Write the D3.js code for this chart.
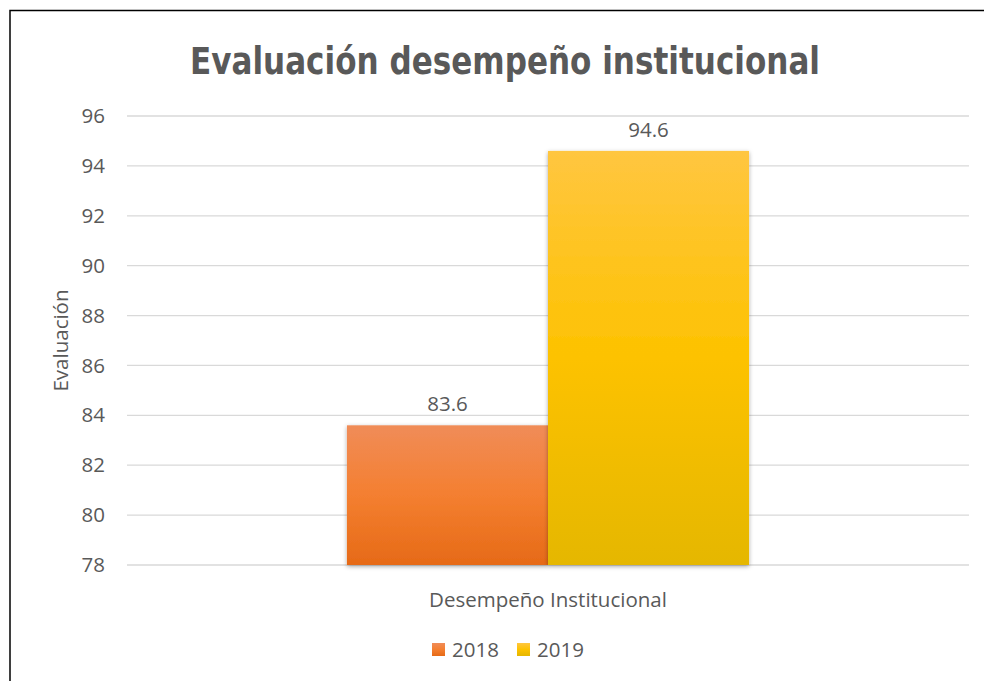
<!DOCTYPE html>
<html>
<head>
<meta charset="utf-8">
<script src="https://d3js.org/d3.v7.min.js"></script>
<style>
  body { margin: 0; background: #fff; }
  text { font-family: "Open Sans", sans-serif; fill: #595959; }
</style>
</head>
<body>
<div id="chart"></div>
<script>
// data
var categories = ['Desempeño Institucional'];
var series = ['2018', '2019'];
var values2018 = [83.6];
var values2019 = [94.6];
var yTicks = [78, 80, 82, 84, 86, 88, 90, 92, 94, 96];

var W = 984, H = 681;
var margin = {top: 116, right: 15, bottom: 116, left: 127};
var width = W - margin.left - margin.right,
    height = H - margin.top - margin.bottom;

var svg = d3.select('#chart').append('svg')
    .attr('width', W).attr('height', H);

var defs = svg.append('defs');
var g1 = defs.append('linearGradient').attr('id', 'grad2018')
    .attr('x1', 0).attr('y1', 0).attr('x2', 0).attr('y2', 1);
g1.append('stop').attr('offset', '0%').attr('stop-color', '#f08c58');
g1.append('stop').attr('offset', '50%').attr('stop-color', '#f47f30');
g1.append('stop').attr('offset', '100%').attr('stop-color', '#e66a17');
var g2 = defs.append('linearGradient').attr('id', 'grad2019')
    .attr('x1', 0).attr('y1', 0).attr('x2', 0).attr('y2', 1);
g2.append('stop').attr('offset', '0%').attr('stop-color', '#ffc640');
g2.append('stop').attr('offset', '50%').attr('stop-color', '#fdc200');
g2.append('stop').attr('offset', '100%').attr('stop-color', '#e5b700');
var shadow = defs.append('filter').attr('id', 'shadow')
    .attr('x', '-10%').attr('y', '-10%').attr('width', '120%').attr('height', '120%');
shadow.append('feDropShadow').attr('dx', 0).attr('dy', 1.5)
    .attr('stdDeviation', 2).attr('flood-color', '#000').attr('flood-opacity', 0.35);

// frame
svg.append('path')
    .attr('d', 'M10,' + H + ' V10.5 H' + W)
    .attr('fill', 'none').attr('stroke', '#000').attr('stroke-width', 1.5);

// title
svg.append('text')
    .attr('x', 505).attr('y', 74)
    .attr('text-anchor', 'middle')
    .style('font-family', '"DejaVu Sans Condensed", "DejaVu Sans", sans-serif')
    .style('font-stretch', 'condensed')
    .style('font-weight', 'bold')
    .style('font-size', '37px')
    .attr('textLength', 630)
    .attr('lengthAdjust', 'spacingAndGlyphs')
    .text('Evaluación desempeño institucional');

var plot = svg.append('g')
    .attr('transform', 'translate(' + margin.left + ',' + margin.top + ')');

var y = d3.scaleLinear().domain([78, 96]).range([height, 0]);
var x0 = d3.scaleBand().domain(categories).range([0, width]).paddingInner(0).paddingOuter(0.547);
var x1 = d3.scaleBand().domain(series).range([0, x0.bandwidth()]);

// gridlines
plot.selectAll('.grid').data(yTicks).enter().append('line')
    .attr('x1', 0).attr('x2', width)
    .attr('y1', function(d) { return y(d); })
    .attr('y2', function(d) { return y(d); })
    .attr('stroke', '#d9d9d9').attr('stroke-width', 1.3);

// y axis
var yAxis = plot.append('g')
    .call(d3.axisLeft(y).tickValues(yTicks).tickSize(0).tickPadding(22));
yAxis.select('.domain').remove();
yAxis.selectAll('text').style('font-size', '20.5px').attr('fill', '#595959')
    .style('font-family', '"Open Sans", sans-serif');

// bars
var rows = categories.map(function(c, i) {
  return {cat: c, vals: [{s: '2018', v: values2018[i]}, {s: '2019', v: values2019[i]}]};
});
var grp = plot.selectAll('.grp').data(rows).enter().append('g')
    .attr('transform', function(d) { return 'translate(' + x0(d.cat) + ',0)'; });
grp.selectAll('rect').data(function(d) { return d.vals; }).enter().append('rect')
    .attr('x', function(d) { return x1(d.s); })
    .attr('width', x1.bandwidth())
    .attr('y', function(d) { return y(d.v); })
    .attr('height', function(d) { return height - y(d.v); })
    .attr('fill', function(d) { return 'url(#grad' + d.s + ')'; })
    .attr('filter', 'url(#shadow)');
grp.selectAll('.lbl').data(function(d) { return d.vals; }).enter().append('text')
    .attr('x', function(d) { return x1(d.s) + x1.bandwidth() / 2; })
    .attr('y', function(d) { return y(d.v) - 14; })
    .attr('text-anchor', 'middle')
    .style('font-size', '20.5px')
    .attr('fill', '#404040')
    .text(function(d) { return d.v.toFixed(1); });

// x axis category label
plot.selectAll('.cat').data(categories).enter().append('text')
    .attr('x', function(d) { return x0(d) + x0.bandwidth() / 2; })
    .attr('y', height + 42)
    .attr('text-anchor', 'middle')
    .style('font-size', '20.5px')
    .text(function(d) { return d; });

// y axis title
svg.append('text')
    .attr('transform', 'translate(68,' + (margin.top + height / 2) + ') rotate(-90)')
    .attr('text-anchor', 'middle')
    .style('font-size', '20.5px')
    .text('Evaluación');

// legend
var legendX = [432, 517];
var leg = svg.selectAll('.leg').data(series).enter().append('g')
    .attr('transform', function(d, i) { return 'translate(' + legendX[i] + ',643)'; });
leg.append('rect').attr('width', 13).attr('height', 13)
    .attr('fill', function(d) { return 'url(#grad' + d + ')'; });
leg.append('text').attr('x', 20).attr('y', 14)
    .style('font-size', '20.5px')
    .text(function(d) { return d; });
</script>
</body>
</html>
